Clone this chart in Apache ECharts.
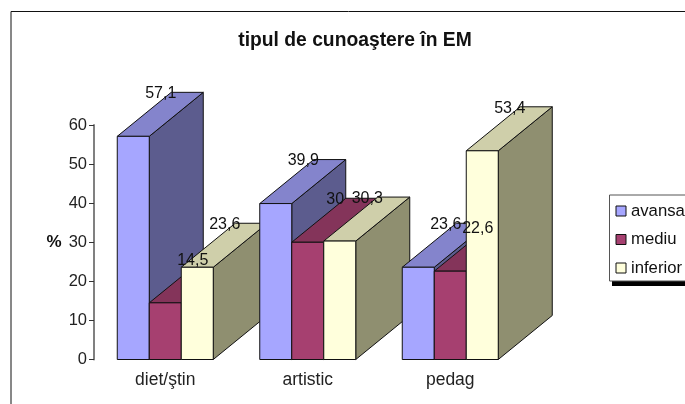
<!DOCTYPE html>
<html>
<head>
<meta charset="utf-8">
<style>
html, body { margin: 0; padding: 0; background: #fff; }
#chart { width: 685px; height: 404px; }
</style>
<script src="https://cdn.jsdelivr.net/npm/echarts@6/dist/echarts.min.js"></script>
</head>
<body>
<div id="chart"></div>
<script>
var categories = ['diet/ştin', 'artistic', 'pedag'];
var seriesNames = ['avansat', 'mediu', 'inferior'];
var avansat = [57.1, 39.9, 23.6];
var mediu = [14.5, 30, 22.6];
var inferior = [23.6, 30.3, 53.4];
var yTicks = [0, 10, 20, 30, 40, 50, 60];

var FONT = '"Liberation Sans", Arial, sans-serif';
var BAR_W = 32, DEPTH_X = 54, DEPTH_Y = 44;
var LINE = '#111111';
// front, top, side
var palette = [
    ['#a6a6ff', '#8484cc', '#5c5c8e'],
    ['#a64070', '#84345a', '#84345a'],
    ['#ffffdc', '#cfcfaa', '#8f8f70']
];

function bar3d(si) {
    return function (params, api) {
        var cat = api.value(0);
        var val = api.value(1);
        var base = api.coord([cat, 0]);
        var top = api.coord([cat, val]);
        var x0 = base[0] + (si - 1.5) * BAR_W;
        var x1 = x0 + BAR_W;
        var z = cat * 10 + si * 2;
        var c = palette[si];
        var face = function (pts, fill) {
            return {
                type: 'polygon', z2: z,
                shape: { points: pts },
                style: { fill: fill, stroke: LINE, lineWidth: 1 }
            };
        };
        return {
            type: 'group',
            children: [
                face([[x1, base[1]], [x1 + DEPTH_X, base[1] - DEPTH_Y], [x1 + DEPTH_X, top[1] - DEPTH_Y], [x1, top[1]]], c[2]),
                face([[x0, top[1]], [x1, top[1]], [x1 + DEPTH_X, top[1] - DEPTH_Y], [x0 + DEPTH_X, top[1] - DEPTH_Y]], c[1]),
                face([[x0, base[1]], [x1, base[1]], [x1, top[1]], [x0, top[1]]], c[0]),
                {
                    type: 'text', z2: 100,
                    style: {
                        text: String(val).replace('.', ','),
                        x: x0 + BAR_W / 2 + 27.5, y: top[1] - DEPTH_Y + 1.5,
                        align: 'center', verticalAlign: 'middle',
                        font: '16px ' + FONT, fill: '#111'
                    }
                }
            ]
        };
    };
}

function makeSeries(name, values, si) {
    return {
        type: 'custom',
        name: name,
        renderItem: bar3d(si),
        clip: false,
        itemStyle: { color: palette[si][0], borderColor: LINE, borderWidth: 1 },
        encode: { x: 0, y: 1 },
        data: values.map(function (v, i) { return [i, v]; })
    };
}

var chart = echarts.init(document.getElementById('chart'));
chart.setOption({
    animation: false,
    backgroundColor: '#fff',
    textStyle: { fontFamily: FONT },
    graphic: [{
        type: 'rect', z: -1,
        shape: { x: 11, y: 11.5, width: 800, height: 600 },
        style: { fill: 'none', stroke: '#111', lineWidth: 1 }
    }, {
        // legend drop shadow
        type: 'rect', z: -1,
        shape: { x: 612, y: 281, width: 100, height: 5 },
        style: { fill: '#000' }
    }],
    title: {
        text: 'tipul de cunoaştere în EM',
        left: 350, top: 26, textAlign: 'center',
        textStyle: { fontFamily: FONT, fontSize: 19.3, fontWeight: 'bold', color: '#111' }
    },
    grid: { left: 94, top: 125, width: 427.5, height: 234.5 },
    legend: {
        orient: 'vertical', left: 609.5, top: 195,
        data: seriesNames,
        icon: 'rect', itemWidth: 10, itemHeight: 10, itemGap: 10.5, itemStyle: { borderColor: LINE, borderWidth: 1 },
        padding: [7, 20, 4, 6],
        backgroundColor: '#fff', borderColor: '#555', borderWidth: 1,
        textStyle: { fontFamily: FONT, fontSize: 16.7, lineHeight: 18, color: '#111' }
    },
    xAxis: {
        type: 'category', data: categories,
        axisLine: { show: false }, axisTick: { show: false },
        axisLabel: { fontFamily: FONT, fontSize: 17.5, color: '#222', margin: 12 }
    },
    yAxis: {
        type: 'value', min: yTicks[0], max: yTicks[yTicks.length - 1], interval: 10,
        name: '%', nameLocation: 'middle', nameRotate: 0, nameGap: 32.5,
        nameTextStyle: { fontFamily: FONT, fontSize: 17, fontWeight: 'bold', color: '#111' },
        axisLine: { show: true, lineStyle: { color: '#808080', width: 2 } },
        axisTick: { show: true, length: 5, lineStyle: { color: '#333', width: 1 } },
        axisLabel: { fontFamily: FONT, fontSize: 16.5, color: '#222', margin: 7 },
        splitLine: { show: false }
    },
    series: [
        makeSeries(seriesNames[0], avansat, 0),
        makeSeries(seriesNames[1], mediu, 1),
        makeSeries(seriesNames[2], inferior, 2)
    ]
});
</script>
</body>
</html>
